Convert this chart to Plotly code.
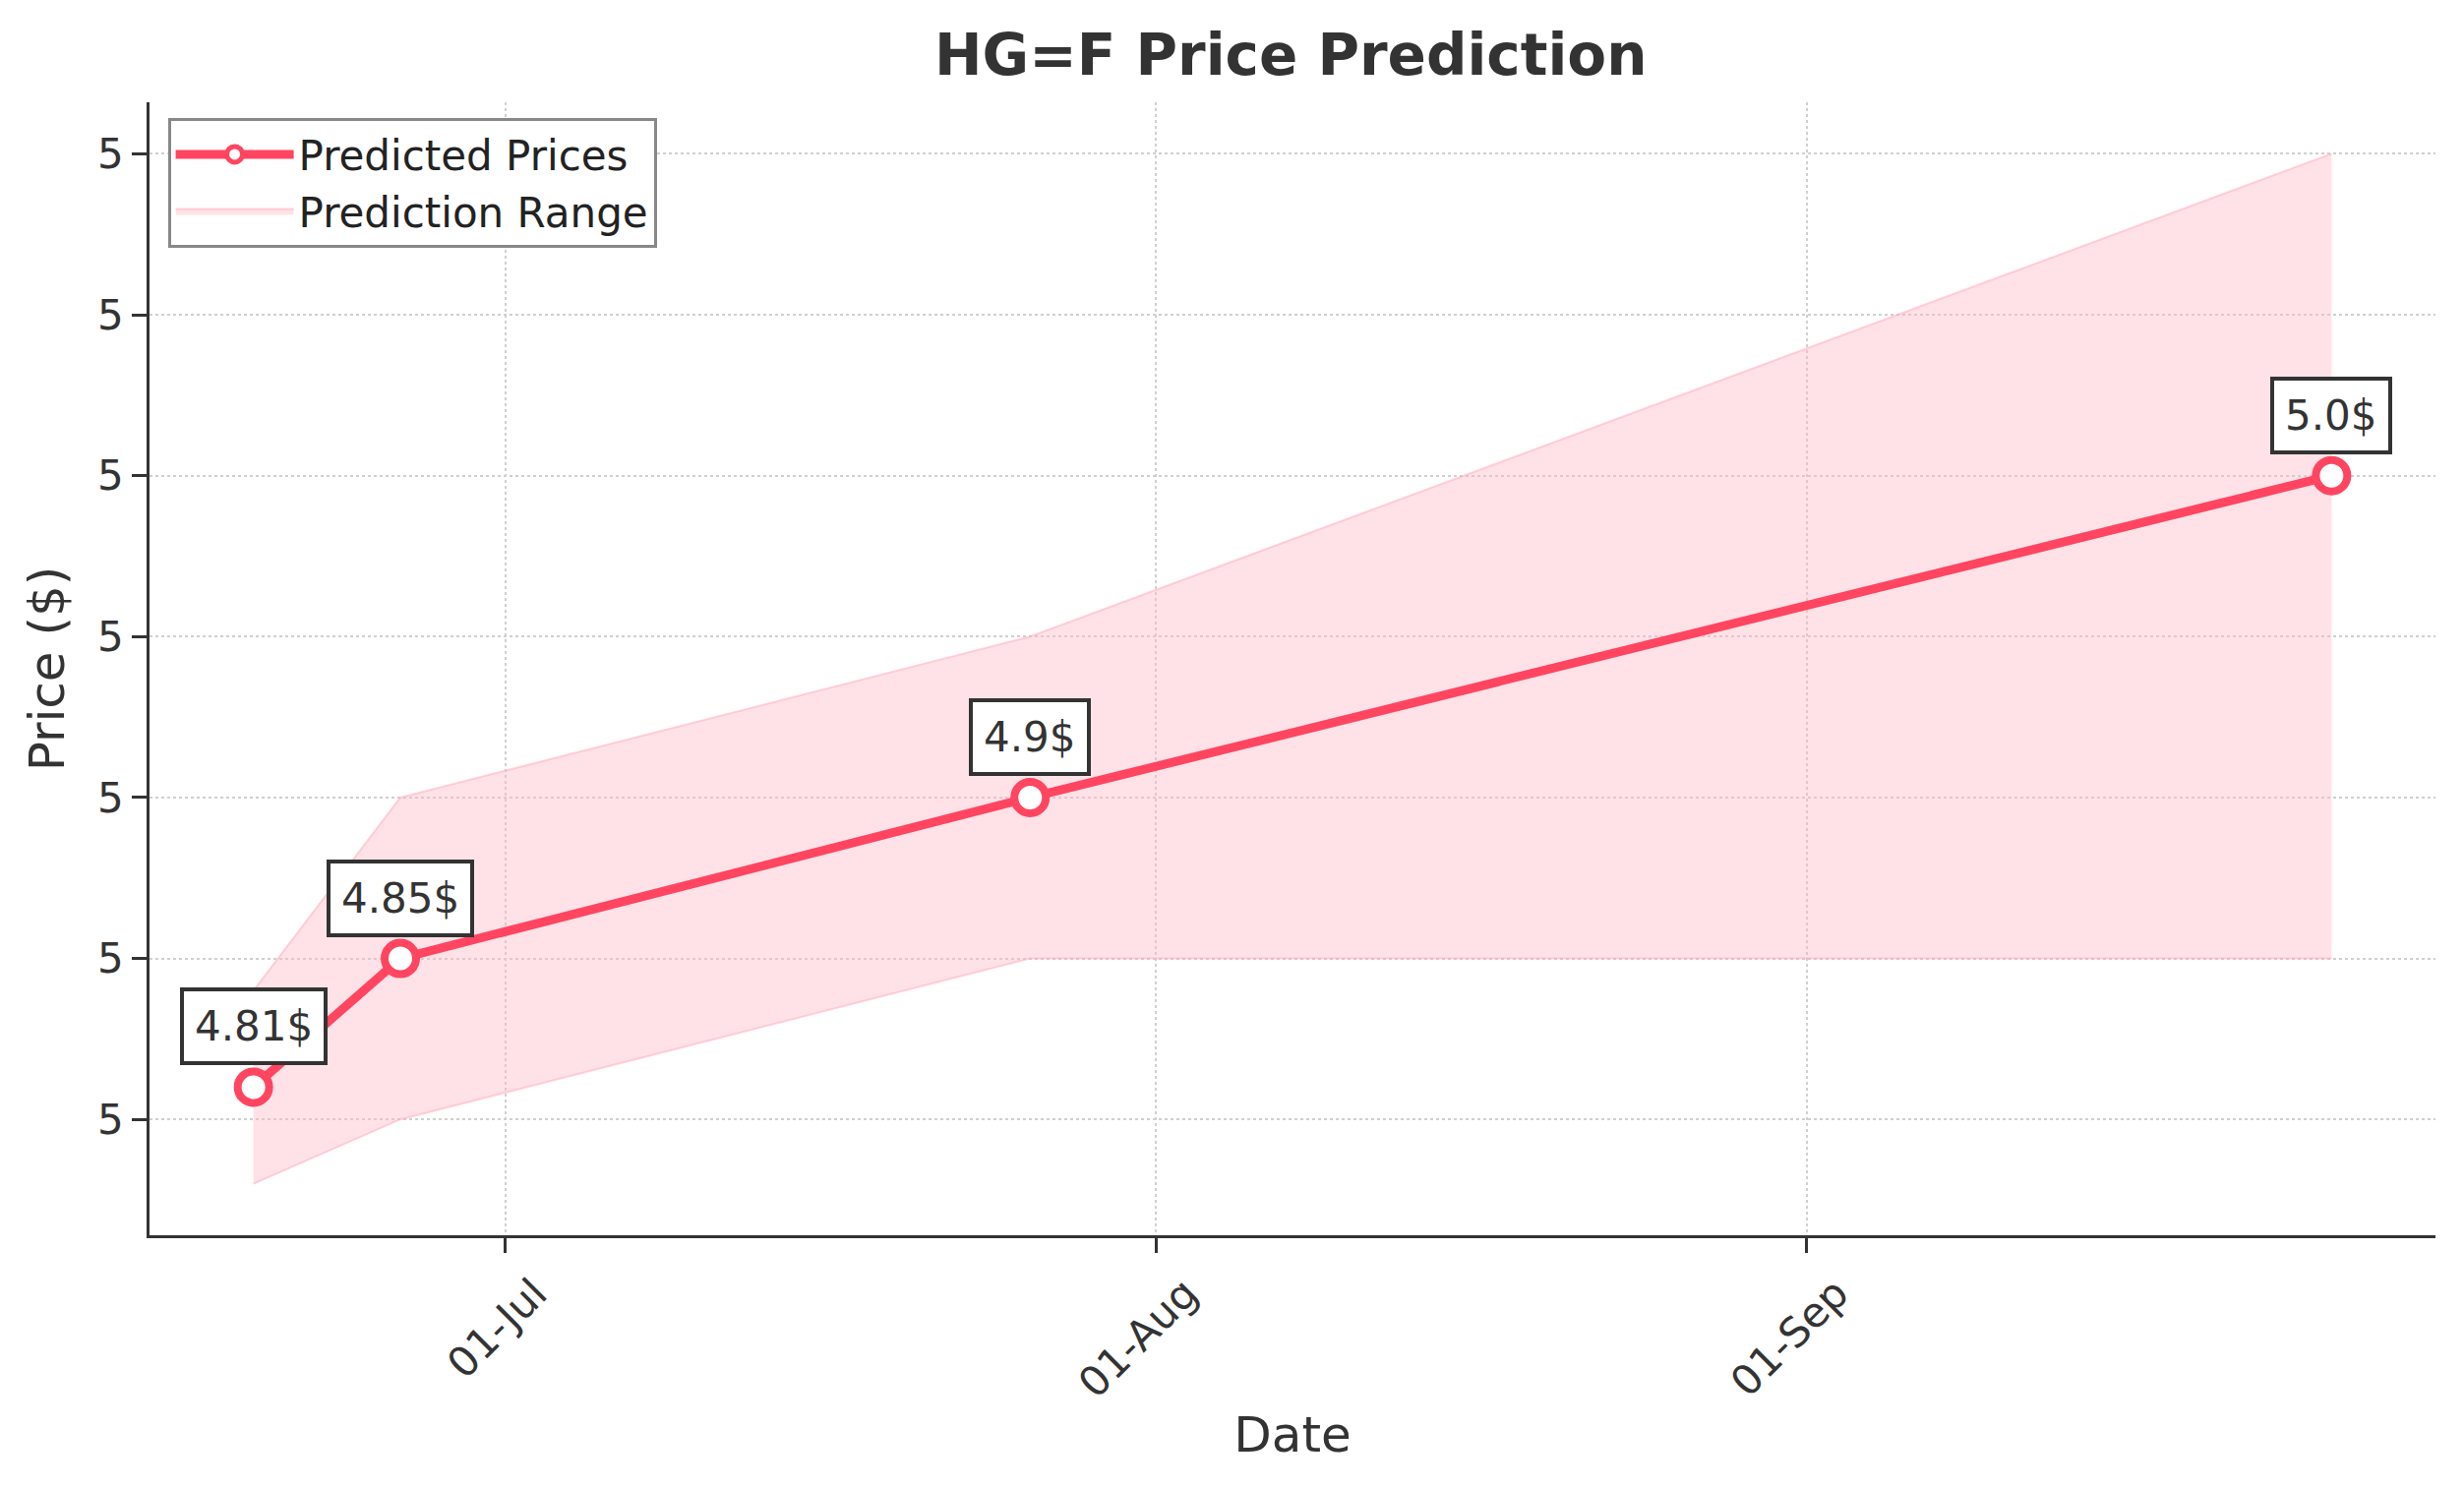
import plotly.graph_objects as go

dates = ['2025-06-19', '2025-06-26', '2025-07-26', '2025-09-26']
predicted = [4.81, 4.85, 4.9, 5.0]
range_low = [4.78, 4.80, 4.85, 4.85]
range_high = [4.84, 4.90, 4.95, 5.10]

line_color = '#ff4560'
text_color = '#333333'
font_family = 'DejaVu Sans'

fig = go.Figure()

# shaded prediction band
fig.add_trace(go.Scatter(
    x=dates, y=range_high, mode='lines',
    line=dict(color='rgba(255,170,185,0.5)', width=2),
    showlegend=False, hoverinfo='skip',
))
fig.add_trace(go.Scatter(
    x=dates, y=range_low, mode='lines', fill='tonexty',
    fillcolor='rgba(255,182,196,0.4)',
    line=dict(color='rgba(255,170,185,0.5)', width=2),
    name='Prediction Range', legendrank=2,
))

fig.add_trace(go.Scatter(
    x=dates, y=predicted, mode='lines+markers',
    line=dict(color=line_color, width=9),
    marker=dict(size=32, color='white', line=dict(color=line_color, width=8)),
    name='Predicted Prices', legendrank=1,
))

for d, v in zip(dates, predicted):
    fig.add_annotation(
        x=d, y=v, text=f"{round(v, 2)}$", showarrow=False,
        yanchor='bottom', yshift=22,
        font=dict(family=font_family, size=42, color=text_color),
        bgcolor='white', bordercolor=text_color, borderwidth=4, borderpad=11,
    )

axis_common = dict(
    showline=True, linecolor=text_color, linewidth=2.5,
    ticks='outside', ticklen=15, tickwidth=2.5, tickcolor=text_color,
    tickfont=dict(family=font_family, size=42, color=text_color),
    showgrid=True, gridcolor='#d0d0d0', gridwidth=2, griddash='dot',
    zeroline=False, mirror=False,
)

fig.update_layout(
    width=2489, height=1497,
    margin=dict(l=144, r=21, t=96, b=249),
    paper_bgcolor='white', plot_bgcolor='white',
    title=dict(
        text='<b>HG=F Price Prediction</b>', x=0.524, xanchor='center',
        y=0.968, yanchor='middle',
        font=dict(family=font_family, size=58, color=text_color),
    ),
    xaxis=dict(
        axis_common,
        type='date',
        range=['2025-06-14 01:12', '2025-09-30 22:48'],
        tick0='2025-06-01', dtick='M1', tickformat='%d-%b', tickangle=-45,
        ticklabelshift=30,
        title=dict(text='Date', standoff=12,
                   font=dict(family=font_family, size=50, color=text_color)),
    ),
    yaxis=dict(
        axis_common,
        range=[4.764, 5.116],
        tick0=4.8, dtick=0.05, tickformat='.0f',
        title=dict(text='Price ($)', standoff=18,
                   font=dict(family=font_family, size=50, color=text_color)),
    ),
    legend=dict(
        x=0.008, y=0.986, xanchor='left', yanchor='top',
        bgcolor='white', bordercolor='#888888', borderwidth=3,
        font=dict(family=font_family, size=42, color='#222222'),
        itemwidth=120, tracegroupgap=0, traceorder='normal',
    ),
    showlegend=True,
)

fig.write_html("out.html")
